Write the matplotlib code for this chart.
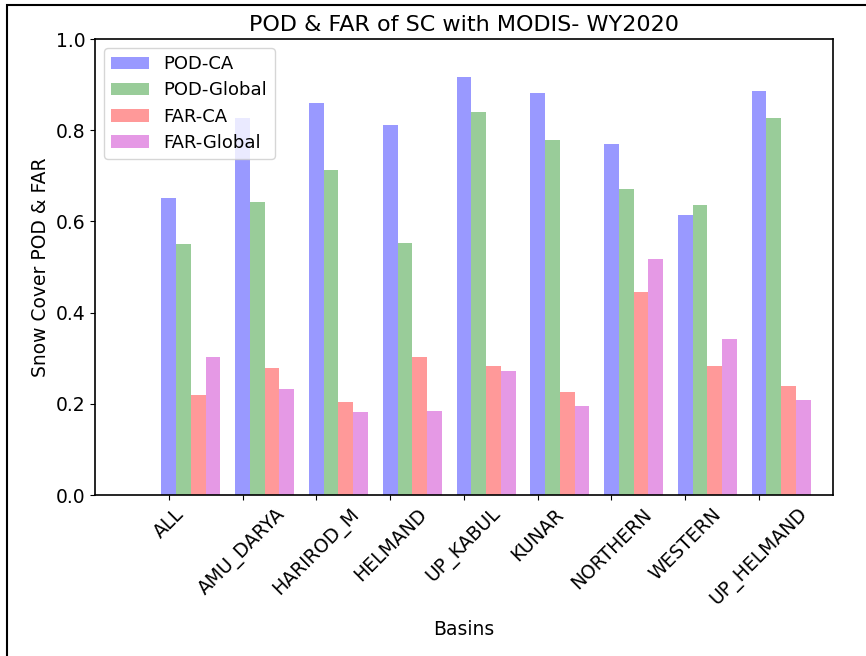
import numpy as np
import matplotlib
matplotlib.use("Agg")
import matplotlib.pyplot as plt
from matplotlib.patches import Rectangle

# Basins and scores
basins = ["ALL", "AMU_DARYA", "HARIROD_M", "HELMAND", "UP_KABUL",
          "KUNAR", "NORTHERN", "WESTERN", "UP_HELMAND"]
pod_ca = [0.652, 0.826, 0.860, 0.812, 0.917, 0.882, 0.769, 0.613, 0.886]
pod_global = [0.551, 0.642, 0.713, 0.552, 0.840, 0.778, 0.671, 0.637, 0.827]
far_ca = [0.220, 0.278, 0.205, 0.303, 0.282, 0.226, 0.446, 0.282, 0.240]
far_global = [0.303, 0.232, 0.182, 0.185, 0.273, 0.196, 0.517, 0.342, 0.208]

series = [("POD-CA", pod_ca, "b"), ("POD-Global", pod_global, "g"),
          ("FAR-CA", far_ca, "r"), ("FAR-Global", far_global, "m")]

fs = 13.5

fig = plt.figure(figsize=(8.66, 6.56), dpi=100)
ax = fig.add_axes([0.1097, 0.2454, 0.852, 0.6951])

x = np.arange(len(basins))
width = 0.2
for i, (name, vals, col) in enumerate(series):
    ax.bar(x + i * width, vals, width, color=col, alpha=0.4, label=name)

ax.set_xlim(-1, 9)
ax.set_ylim(0, 1.0)
ax.set_yticks([0.0, 0.2, 0.4, 0.6, 0.8, 1.0])
ax.set_xticks(x)
ax.set_xticklabels(basins, rotation=45, fontsize=fs)
ax.tick_params(axis="y", labelsize=fs)
ax.set_xlabel("Basins", fontsize=fs, labelpad=8)
ax.set_ylabel("Snow Cover POD & FAR", fontsize=fs)
ax.set_title("POD & FAR of SC with MODIS- WY2020", fontsize=16)
ax.legend(loc="upper left", fontsize=13, labelspacing=0.45, handlelength=2.1)
for s in ax.spines.values():
    s.set_linewidth(1.2)

# screenshot frame on left and top
fig.patches.append(Rectangle((7 / 866, -0.1), 1.2, 1.1 - 5 / 656, transform=fig.transFigure,
                             fill=False, edgecolor="black", linewidth=1.5))

fig.savefig("out.png", dpi=100)
